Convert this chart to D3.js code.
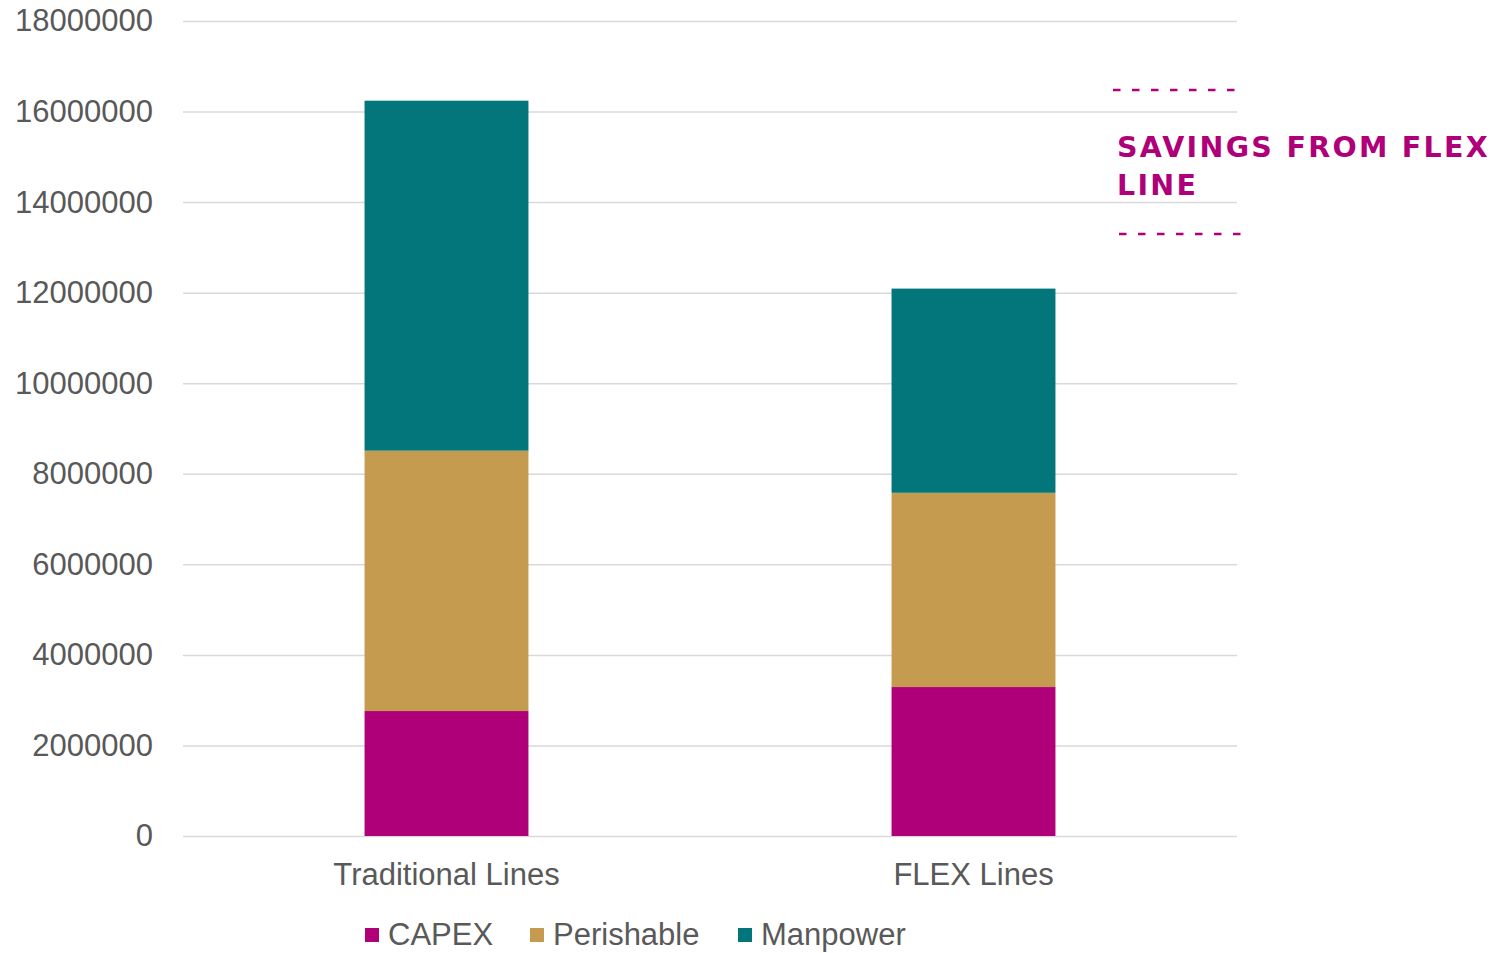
<!DOCTYPE html>
<html>
<head>
<meta charset="utf-8">
<script src="https://cdn.jsdelivr.net/npm/d3@7"></script>
<style>
  html, body { margin: 0; padding: 0; background: #fff; }
  svg { display: block; font-family: "Liberation Sans", Arial, sans-serif; }
</style>
</head>
<body>
<svg id="chart" width="1501" height="953"></svg>
<script>
// ── Data ─────────────────────────────────────────────
const categories  = ['Traditional Lines', 'FLEX Lines'];
const seriesNames = ['CAPEX', 'Perishable', 'Manpower'];
const capex       = [2760000, 3290000];
const perishable  = [5750000, 4290000];
const manpower    = [7730000, 4510000];
const yTicks      = [0, 2000000, 4000000, 6000000, 8000000, 10000000,
                     12000000, 14000000, 16000000, 18000000];
const noteLines   = ['SAVINGS FROM FLEX', 'LINE'];

const colors = { CAPEX: '#AF007A', Perishable: '#C59C4F', Manpower: '#02767A' };
const TEXT = '#595959';
const GRID = '#D9D9D9';

// ── Layout ───────────────────────────────────────────
const margin = { top: 21, left: 183, right: 264, bottom: 117 };
const W = 1501, H = 953;
const iW = W - margin.left - margin.right;
const iH = H - margin.top - margin.bottom;

const svg = d3.select('#chart');
const g = svg.append('g').attr('transform', `translate(${margin.left},${margin.top})`);

const x = d3.scaleBand()
  .domain(categories)
  .range([0, iW])
  .paddingInner(0.689)
  .paddingOuter(0.3445);

const y = d3.scaleLinear()
  .domain([0, 18000000])
  .range([iH, 0]);

// ── Grid + y axis ────────────────────────────────────
g.append('g')
  .call(d3.axisLeft(y).tickValues(yTicks).tickSize(-iW).tickPadding(30).tickFormat(d3.format('d')))
  .call(ax => {
    ax.select('.domain').remove();
    ax.selectAll('.tick line').attr('stroke', GRID).attr('stroke-width', 1.5);
    ax.selectAll('.tick text')
      .attr('fill', TEXT)
      .attr('font-size', 31)
      .attr('font-family', '"Liberation Sans", Arial, sans-serif');
  });

// ── Stacked bars ─────────────────────────────────────
const rows = categories.map((c, i) => ({
  cat: c, CAPEX: capex[i], Perishable: perishable[i], Manpower: manpower[i]
}));
const stacked = d3.stack().keys(seriesNames)(rows);

g.selectAll('.series')
  .data(stacked)
  .join('g')
    .attr('class', 'series')
    .attr('fill', d => colors[d.key])
  .selectAll('rect')
  .data(d => d)
  .join('rect')
    .attr('x', d => x(d.data.cat))
    .attr('y', d => y(d[1]))
    .attr('width', x.bandwidth())
    .attr('height', d => y(d[0]) - y(d[1]));

// ── x axis labels ────────────────────────────────────
g.append('g')
  .attr('transform', `translate(0,${iH})`)
  .call(d3.axisBottom(x).tickSize(0).tickPadding(27))
  .call(ax => {
    ax.select('.domain').remove();
    ax.selectAll('.tick text')
      .attr('fill', TEXT)
      .attr('font-size', 31)
      .attr('font-family', '"Liberation Sans", Arial, sans-serif');
  });

// ── Legend ───────────────────────────────────────────
const legendX = [365, 530, 738];
const legend = svg.append('g');
seriesNames.forEach((name, i) => {
  legend.append('rect')
    .attr('x', legendX[i]).attr('y', 928)
    .attr('width', 14).attr('height', 14)
    .attr('fill', colors[name]);
  legend.append('text')
    .attr('x', legendX[i] + 23).attr('y', 945)
    .attr('fill', TEXT)
    .attr('font-size', 31)
    .text(name);
});

// ── Savings annotation ───────────────────────────────
const note = svg.append('g');
[[1113, 1237, 90], [1119, 1250, 234]].forEach(([x1, x2, yy]) => {
  note.append('line')
    .attr('x1', x1).attr('x2', x2)
    .attr('y1', yy).attr('y2', yy)
    .attr('stroke', colors.CAPEX)
    .attr('stroke-width', 2.5)
    .attr('stroke-dasharray', '7.5 11.5');
});
noteLines.forEach((t, i) => {
  note.append('text')
    .attr('x', 1117).attr('y', 157 + i * 38)
    .attr('fill', colors.CAPEX)
    .attr('font-size', 28.5)
    .attr('font-weight', 'bold')
    .attr('font-family', '"DejaVu Sans", sans-serif')
    .attr('letter-spacing', 2.3)
    .text(t);
});
</script>
</body>
</html>
